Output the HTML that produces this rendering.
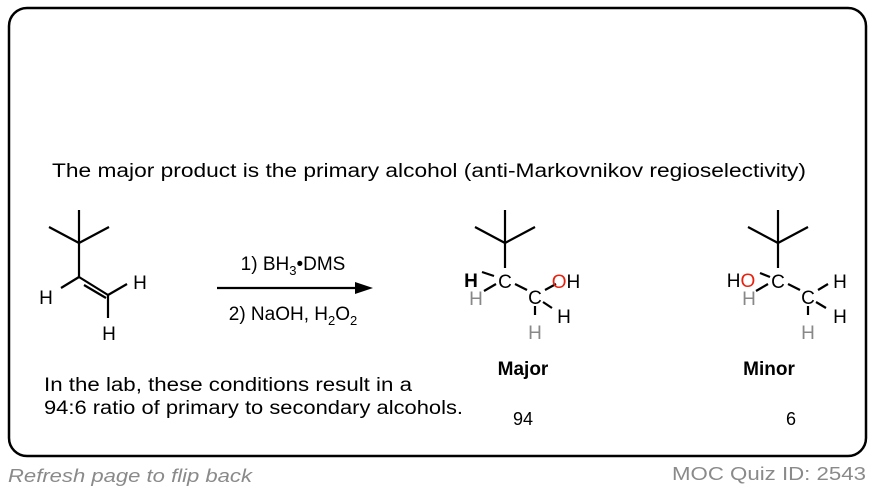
<!DOCTYPE html>
<html><head><meta charset="utf-8"><style>
html,body{margin:0;padding:0;background:#fff;}
svg{display:block;font-family:"Liberation Sans",Arial,sans-serif;}
</style></head><body>
<svg width="874" height="492" viewBox="0 0 874 492" xmlns="http://www.w3.org/2000/svg">
<rect x="9" y="8" width="857" height="448" rx="18" ry="18" fill="none" stroke="#000" stroke-width="2.5"/>
<text x="52" y="177" font-size="19" textLength="754" lengthAdjust="spacingAndGlyphs">The major product is the primary alcohol (anti-Markovnikov regioselectivity)</text>
<g stroke="#000" stroke-width="2.2" fill="none">
<line x1="79" y1="210" x2="79" y2="277"/>
<line x1="49" y1="227" x2="79" y2="243"/>
<line x1="109" y1="227" x2="79" y2="243"/>
<line x1="79" y1="277" x2="108" y2="295"/>
<line x1="84" y1="285" x2="106" y2="298" />
<line x1="79" y1="277" x2="61" y2="288"/>
<line x1="108" y1="295" x2="127" y2="284"/>
<line x1="108" y1="295" x2="108" y2="318"/>
<line x1="217" y1="288" x2="362" y2="288"/>
<line x1="505" y1="210" x2="505" y2="268"/>
<line x1="475" y1="227" x2="505" y2="243"/>
<line x1="535" y1="227" x2="505" y2="243"/>
<line x1="482" y1="272" x2="494" y2="276"/>
<line x1="484" y1="291" x2="496" y2="284"/>
<line x1="515" y1="284" x2="527" y2="290"/>
<line x1="545" y1="290" x2="556" y2="284"/>
<line x1="543" y1="302" x2="552" y2="308"/>
<line x1="535" y1="306" x2="535" y2="315"/>
<line x1="778" y1="210" x2="778" y2="268"/>
<line x1="748" y1="227" x2="778" y2="243"/>
<line x1="808" y1="227" x2="778" y2="243"/>
<line x1="760" y1="273" x2="770" y2="277"/>
<line x1="756" y1="291" x2="768" y2="284"/>
<line x1="788" y1="284" x2="800" y2="290"/>
<line x1="818" y1="290" x2="828" y2="284"/>
<line x1="816" y1="302" x2="826" y2="308"/>
<line x1="808" y1="306" x2="808" y2="315"/>
</g>
<polygon points="373,288 355,282 355,294" fill="#000"/>
<g font-size="19" text-anchor="middle">
<text x="46" y="304">H</text>
<text x="140" y="289">H</text>
<text x="109" y="340">H</text>
<text x="293" y="270">1) BH<tspan font-size="13" dy="5">3</tspan><tspan dy="-5">•DMS</tspan></text>
<text x="293" y="320">2) NaOH, H<tspan font-size="13" dy="5">2</tspan><tspan dy="-5">O</tspan><tspan font-size="13" dy="5">2</tspan></text>
<text x="471" y="287" font-weight="bold">H</text>
<text x="476" y="305" fill="#888">H</text>
<text x="505" y="288">C</text>
<text x="535" y="304">C</text>
<text x="566" y="288"><tspan fill="#e8210f">O</tspan>H</text>
<text x="564" y="323">H</text>
<text x="535" y="339" fill="#888">H</text>
<text x="741" y="287">H<tspan fill="#e8210f">O</tspan></text>
<text x="749" y="305" fill="#888">H</text>
<text x="778" y="288">C</text>
<text x="808" y="304">C</text>
<text x="840" y="288">H</text>
<text x="840" y="323">H</text>
<text x="808" y="339" fill="#888">H</text>
<text x="523" y="375" font-weight="bold">Major</text>
<text x="769" y="375" font-weight="bold">Minor</text>
<text x="523" y="425" font-size="18">94</text>
<text x="791" y="425" font-size="18">6</text>
</g>
<text x="44" y="391" font-size="19" textLength="368" lengthAdjust="spacingAndGlyphs">In the lab, these conditions result in a</text>
<text x="44" y="414" font-size="19" textLength="419" lengthAdjust="spacingAndGlyphs">94:6 ratio of primary to secondary alcohols.</text>
<text x="8" y="482" font-size="18" font-style="italic" fill="#8a8a8a" textLength="244" lengthAdjust="spacingAndGlyphs">Refresh page to flip back</text>
<text x="866" y="480" font-size="18" fill="#8a8a8a" text-anchor="end" textLength="194" lengthAdjust="spacingAndGlyphs">MOC Quiz ID: 2543</text>
</svg>
</body></html>
